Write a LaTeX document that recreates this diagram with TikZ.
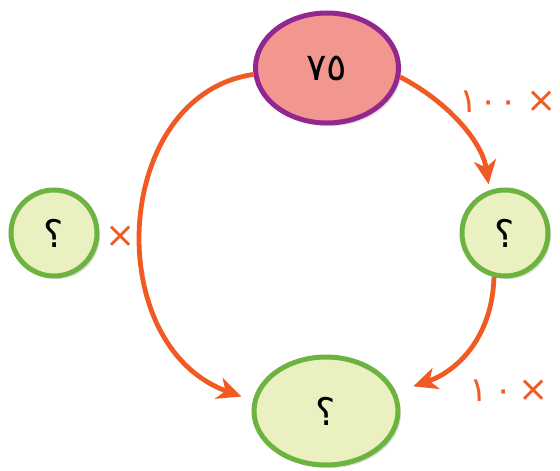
\documentclass[tikz,border=0pt]{standalone}
\usepackage{fontspec}
\newfontfamily\arabicfont[Script=Arabic]{DejaVu Sans}
\usetikzlibrary{shapes.geometric,shadows,arrows.meta}
\definecolor{pinkfill}{HTML}{F29690}
\definecolor{purpleedge}{HTML}{93278F}
\definecolor{greenedge}{HTML}{6DB33F}
\definecolor{greenfill}{HTML}{EBF0C0}
\definecolor{arroworange}{HTML}{F15A22}
\tikzset{
  nodebase/.style={ellipse, line width=5pt, inner sep=0pt,
    drop shadow={opacity=0.25, shadow xshift=3pt, shadow yshift=-3pt},
    font=\arabicfont\fontsize{38}{40}\selectfont, text=black},
  topnode/.style={nodebase, draw=purpleedge, fill=pinkfill},
  greennode/.style={nodebase, draw=greenedge, fill=greenfill},
  conn/.style={draw=arroworange, line width=4.8pt,
    -{Stealth[length=24pt, width=22pt, inset=7pt]}},
  lbl/.style={text=arroworange, font=\arabicfont\fontsize{34}{36}\selectfont, inner sep=0pt}
}
\newcommand{\timesmark}{{\fontsize{36}{38}\selectfont ×}}
\begin{document}
\begin{tikzpicture}[x=1pt,y=-1pt]
\useasboundingbox (0,0) rectangle (560,471);
\node[topnode, minimum width=143pt, minimum height=110pt] (top) at (327,68) {٧٥};
\node[greennode, minimum width=86pt, minimum height=86pt] (right) at (505,233) {؟};
\node[greennode, minimum width=86pt, minimum height=86pt] (left) at (54,233) {؟};
\node[greennode, minimum width=144pt, minimum height=108pt] (bottom) at (326,411) {؟};
\draw[conn, shorten >=6pt] (top.-7) .. controls (445,100) and (482,140) .. (right.110);
\draw[conn, shorten >=12pt] (top.185) .. controls (112,95) and (100,345) .. (bottom.172);
\draw[conn, shorten >=18pt] (right.256) .. controls (492,340) and (455,372) .. (bottom.15);
\node[lbl] (l1) at (508,102) {١\hspace{2pt}٠\hspace{2pt}٠\hspace{9pt}\timesmark};
\node[lbl] (l2) at (121,237) {\timesmark};
\node[lbl] (l3) at (509,391) {١\hspace{7pt}٠\hspace{6pt}\timesmark};
\end{tikzpicture}
\end{document}
